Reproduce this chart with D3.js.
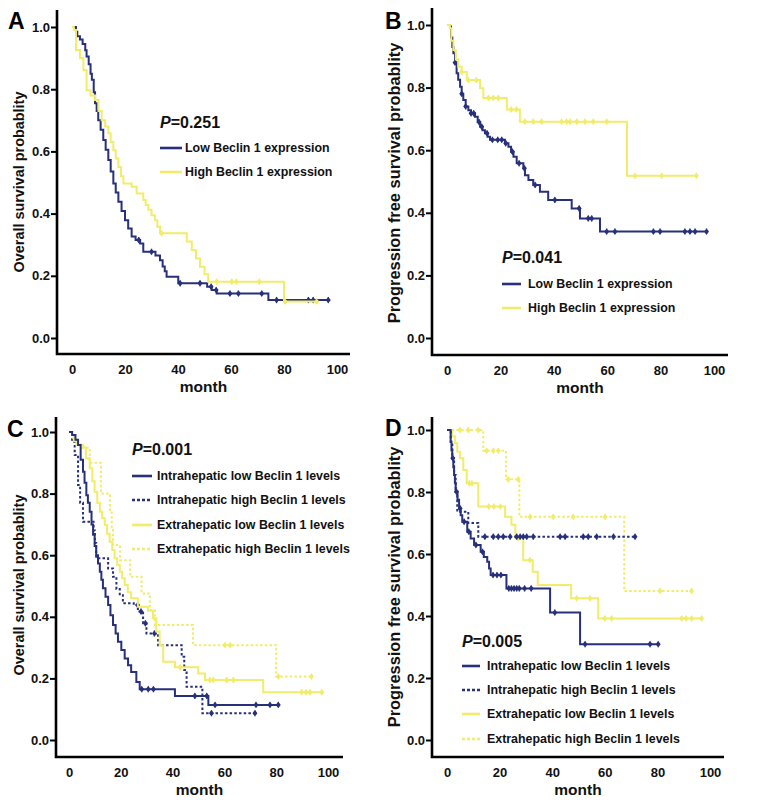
<!DOCTYPE html>
<html><head><meta charset="utf-8">
<script src="https://cdn.jsdelivr.net/npm/d3@7"></script>
<style>body{margin:0;background:#fff}svg{display:block}</style>
</head><body><svg id="c" width="758" height="807"></svg>
<script>
// ---------- data ----------
const monthTicks=[0,20,40,60,80,100];
const probTicks=[0,0.2,0.4,0.6,0.8,1.0];
const panelLetters=["A","B","C","D"];
const pValues=["0.251","0.041","0.001","0.005"];
const yTitles=["Overall survival probablity","Progression free survival probablity","Overall survival probablity","Progression free survival probablity"];
const xTitle="month";
const legend2=["Low Beclin 1 expression","High Beclin 1 expression"];
const legend4=["Intrahepatic low Beclin 1 levels","Intrahepatic high Beclin 1 levels","Extrahepatic low Beclin 1 levels","Extrahepatic high Beclin 1 levels"];

// Panel A: overall survival, low vs high
const aLowSteps=[[0,1.0],[1.5,0.985],[2,0.97],[3,0.96],[4,0.945],[5,0.925],[5.5,0.905],[6.3,0.88],[7,0.85],[7.5,0.83],[8.2,0.79],[8.7,0.755],[9.3,0.73],[9.9,0.70],[10.8,0.67],[11.8,0.637],[12.7,0.605],[13.7,0.572],[14.6,0.535],[15.6,0.497],[16.5,0.468],[17.5,0.438],[18.7,0.408],[20,0.379],[21.2,0.352],[22.5,0.326],[24,0.315],[25.7,0.304],[26.9,0.277],[31.5,0.265],[33.2,0.25],[34.2,0.23],[35,0.215],[35.7,0.197],[40.1,0.176],[51,0.165],[52.7,0.154],[54.6,0.143],[74.1,0.122],[96.7,0.122]];
const aLowCens=[25.2,30,40.8,48.3,52.5,54.4,59.6,62.8,71.6,77.2,89.2,91,96.7];
const aHighSteps=[[0,1.0],[0.7,0.99],[1.5,0.926],[3,0.90],[4.3,0.862],[5.5,0.797],[7,0.78],[8.7,0.765],[10,0.73],[11.2,0.70],[12.5,0.68],[13.7,0.658],[14.6,0.63],[15.6,0.604],[16.5,0.577],[17.5,0.55],[18.5,0.52],[19.4,0.497],[22.5,0.486],[24.4,0.465],[26.9,0.444],[27.8,0.428],[28.8,0.412],[30,0.395],[31.3,0.379],[32.2,0.358],[33.2,0.337],[43.3,0.31],[45.2,0.283],[46.8,0.256],[48.3,0.229],[50,0.205],[51.4,0.181],[80,0.117],[93,0.117]];
const aHighCens=[33.8,54.6,60.3,62,70.7,80.4,92.3];

// Panel B: progression free survival, low vs high
const bLowSteps=[[0,1.0],[1.1,0.995],[1.5,0.96],[2,0.93],[2.4,0.91],[3,0.88],[3.6,0.846],[4.2,0.825],[4.9,0.803],[5.5,0.78],[6.1,0.76],[7,0.74],[8,0.728],[9,0.718],[10.5,0.707],[11.5,0.69],[12.4,0.675],[13.3,0.664],[14.2,0.654],[15.2,0.643],[16.1,0.633],[21.7,0.622],[23,0.611],[24,0.595],[24.9,0.579],[26.1,0.558],[28.6,0.542],[29.2,0.52],[30.5,0.505],[32.3,0.489],[34.8,0.467],[37.9,0.441],[46.7,0.414],[49.8,0.382],[57.3,0.34],[97.2,0.34]];
const bLowCens=[3,5.5,7,9,10,12,13,15,17,19,20.5,22,24.5,27,29,33,40.4,49.5,52.9,54.2,59.8,62.9,77.3,79.8,89.1,91,92.9,97.2];
const bHighSteps=[[0,1.0],[1.1,0.99],[1.6,0.95],[2.4,0.92],[3.3,0.89],[4.2,0.867],[5.5,0.85],[7.4,0.824],[12.4,0.798],[13.6,0.767],[22.4,0.73],[27.3,0.691],[67.4,0.518],[93.4,0.518]];
const bHighCens=[5.5,8,11,15.5,17.3,19.2,24,26,29.2,32.3,35.4,42.9,44.8,46.1,48.6,51.7,54.8,59.8,70.4,80.4,93.4];

// Panel C: overall survival, four groups
const cIlSteps=[[0,1.0],[1.2,0.99],[2.5,0.975],[3.5,0.958],[4.5,0.91],[5.4,0.871],[6,0.835],[6.7,0.795],[7.3,0.77],[8,0.741],[8.7,0.70],[9.3,0.666],[9.9,0.63],[10.5,0.60],[11.2,0.573],[11.9,0.546],[12.5,0.52],[13.1,0.493],[14.1,0.465],[15.1,0.438],[16,0.405],[17,0.373],[18,0.346],[18.9,0.319],[20.2,0.292],[21.5,0.265],[22.8,0.243],[24,0.221],[26,0.188],[27.3,0.165],[40.9,0.143],[53.8,0.114],[80.8,0.114]];
const cIlCens=[28.1,30.6,32.6,48.6,53.2,56.4,72.2,77.6,80.8];
const cIhSteps=[[0,1.0],[1.2,0.968],[2.2,0.925],[3.5,0.828],[4.3,0.77],[5.4,0.709],[9.5,0.68],[10,0.64],[10.5,0.59],[13.8,0.59],[15.1,0.557],[17,0.53],[18.3,0.49],[19.6,0.47],[20.8,0.444],[25,0.438],[26.6,0.417],[28.6,0.379],[29.9,0.346],[34.4,0.308],[43.5,0.27],[44.5,0.227],[45.4,0.173],[51.5,0.087],[71.8,0.087]];
const cIhCens=[26.5,27.8,29.5,33,55,71.8];
const cElSteps=[[0,1.0],[1.2,0.99],[2,0.97],[3,0.958],[5.5,0.95],[6.5,0.915],[8,0.882],[9,0.84],[9.9,0.806],[10.9,0.77],[11.9,0.741],[12.8,0.72],[13.8,0.698],[14.7,0.67],[15.7,0.644],[16.7,0.617],[17.6,0.59],[18.6,0.568],[19.6,0.546],[20.5,0.525],[21.5,0.503],[22.7,0.48],[24,0.46],[26.6,0.433],[30.5,0.42],[32.4,0.395],[33.7,0.352],[35,0.308],[36.4,0.254],[40.9,0.236],[49.9,0.216],[52.5,0.195],[75,0.155],[97.6,0.155]];
const cElCens=[42.9,54.4,55.7,60.9,63.5,89.8,91.5,93,97.6];
const cEhSteps=[[0,1.0],[1.2,0.98],[2.5,0.96],[4.5,0.949],[8,0.90],[12.3,0.80],[15.8,0.747],[16.5,0.69],[17,0.633],[19.7,0.584],[23.6,0.53],[28,0.476],[31.2,0.422],[33.1,0.373],[47.9,0.308],[80,0.206],[93.6,0.206]];
const cEhCens=[60.2,62.2,80.8,93.6];

// Panel D: progression free survival, four groups
const dIlSteps=[[0,1.0],[1.4,0.962],[1.7,0.935],[2,0.909],[2.4,0.88],[2.7,0.855],[3,0.83],[3.3,0.801],[4,0.775],[4.6,0.747],[5.2,0.725],[5.8,0.704],[7.7,0.672],[9,0.65],[10.3,0.629],[12.8,0.607],[14,0.59],[15.3,0.575],[16,0.553],[16.6,0.532],[22.6,0.489],[39.2,0.411],[50.6,0.309],[80.3,0.309]];
const dIlCens=[2.2,3.6,5,6.5,8.3,11,13.5,17.5,19,20.5,23.5,24.5,25.5,26.5,27.5,29.5,32,41,52.5,77.2,80.3];
const dIhSteps=[[0,1.0],[1.4,0.962],[2,0.909],[2.7,0.855],[3.3,0.80],[3.9,0.736],[8.1,0.70],[11.9,0.656],[71.5,0.656]];
const dIhCens=[14.4,17.6,19.5,21.4,24,26.5,27.8,29,30.3,32.8,43,44.9,51.8,53.7,56.9,63.3,71.5];
const dElSteps=[[0,1.0],[2,0.98],[3,0.957],[3.9,0.93],[4.9,0.909],[6.2,0.871],[7.5,0.828],[11.9,0.753],[22.1,0.72],[24.5,0.694],[26,0.651],[29,0.58],[32.6,0.543],[34.5,0.5],[47.2,0.457],[57.5,0.392],[97.2,0.392]];
const dElCens=[8.5,9.5,15.9,17.8,20.3,27.1,31.5,49.3,54.4,60,62.6,89.2,90.9,93,96.8];
const dEhSteps=[[0,1.0],[13.8,0.933],[22.4,0.841],[27.5,0.72],[67.4,0.481],[93,0.481]];
const dEhCens=[4.9,8.1,11.9,15.1,17.6,19.5,23.3,27.1,31.6,40.4,48,60.1,81,93];

// ---------- styling ----------
const NAVY="#27307a", YEL="#f1ec6a";
const FONT="'Liberation Sans', Arial, Helvetica, sans-serif";
const styles=[{c:NAVY,dash:null},{c:NAVY,dash:"2.5,2.2"},{c:YEL,dash:null},{c:YEL,dash:"2.5,2.2"}];

const panels=[
 {x0:72,x100:337,y0:338,y1:27,aL:57,aR:350,aT:10,aB:354,letter:[8,29],yt:{x:19,y:182,fs:14.4},
  leg:{px:160,py:122,lx1:160,lx2:182,tx:185,rows:[148,172]},labels:legend2,
  series:[{s:aLowSteps,c:aLowCens,st:0},{s:aHighSteps,c:aHighCens,st:2}],legStyles:[0,2]},
 {x0:447,x100:714,y0:338,y1:25,aL:432,aR:728,aT:8,aB:355,letter:[385,29],yt:{x:394,y:183,fs:16.4},
  leg:{px:502,py:257,lx1:502,lx2:521,tx:528,rows:[284,308]},labels:legend2,
  series:[{s:bLowSteps,c:bLowCens,st:0},{s:bHighSteps,c:bHighCens,st:2}],legStyles:[0,2]},
 {x0:69,x100:328,y0:740,y1:432,aL:56,aR:343,aT:417,aB:757,letter:[7,437],yt:{x:19,y:585,fs:14.4},
  leg:{px:132,py:449,lx1:132,lx2:152,tx:157,rows:[476,500,525,549]},labels:legend4,
  series:[{s:cIhSteps,c:cIhCens,st:1},{s:cEhSteps,c:cEhCens,st:3},{s:cElSteps,c:cElCens,st:2},{s:cIlSteps,c:cIlCens,st:0}],legStyles:[0,1,2,3]},
 {x0:447,x100:710,y0:740,y1:430,aL:432,aR:724,aT:417,aB:757,letter:[385,436],yt:{x:394,y:587,fs:16.4},
  leg:{px:462,py:641,lx1:462,lx2:480,tx:487,rows:[666,690,714,739]},labels:legend4,
  series:[{s:dEhSteps,c:dEhCens,st:3},{s:dElSteps,c:dElCens,st:2},{s:dIhSteps,c:dIhCens,st:1},{s:dIlSteps,c:dIlCens,st:0}],legStyles:[0,1,2,3]}
];

const svg=d3.select("#c");
svg.append("rect").attr("width",758).attr("height",807).attr("fill","#fff");

function survAt(steps,t){let v=steps[0][1];for(const d of steps){if(d[0]<=t)v=d[1];else break;}return v;}

panels.forEach((p,i)=>{
  const g=svg.append("g");
  const xs=d3.scaleLinear().domain([0,100]).range([p.x0,p.x100]);
  const ys=d3.scaleLinear().domain([0,1]).range([p.y0,p.y1]);

  // y axis
  const yAx=g.append("g").attr("transform",`translate(${p.aL},0)`)
    .call(d3.axisLeft(ys).tickValues(probTicks).tickFormat(d3.format(".1f")).tickSize(6).tickPadding(1));
  yAx.select(".domain").remove();
  yAx.selectAll("line").attr("stroke","#000").attr("stroke-width",2);
  yAx.selectAll("text").attr("font-family",FONT).attr("font-weight","bold").attr("font-size",13).attr("fill","#111");
  // x axis
  const xAx=g.append("g").attr("transform",`translate(0,${p.aB})`)
    .call(d3.axisBottom(xs).tickValues(monthTicks).tickSize(0).tickPadding(11));
  xAx.select(".domain").remove();
  xAx.selectAll("text").attr("font-family",FONT).attr("font-weight","bold").attr("font-size",13).attr("fill","#111");
  // axis lines
  g.append("path").attr("d",`M${p.aL},${p.aT}V${p.aB}H${p.aR}`).attr("fill","none").attr("stroke","#000").attr("stroke-width",2.6);

  // titles
  g.append("text").attr("x",(p.aL+p.aR)/2).attr("y",p.aB+38).attr("text-anchor","middle")
    .attr("font-family",FONT).attr("font-weight","bold").attr("font-size",15.5).attr("fill","#111").text(xTitle);
  g.append("text").attr("transform",`translate(${p.yt.x+p.yt.fs*0.36},${p.yt.y}) rotate(-90)`).attr("text-anchor","middle")
    .attr("font-family",FONT).attr("font-weight","bold").attr("font-size",p.yt.fs).attr("fill","#111").text(yTitles[i]);
  g.append("text").attr("x",p.letter[0]).attr("y",p.letter[1]).attr("font-family",FONT).attr("font-weight","bold")
    .attr("font-size",23).attr("fill","#000").text(panelLetters[i]);

  // curves
  const line=d3.line().x(d=>xs(d[0])).y(d=>ys(d[1])).curve(d3.curveStepAfter);
  p.series.forEach(se=>{
    const st=styles[se.st];
    g.append("path").datum(se.s).attr("d",line).attr("fill","none").attr("stroke",st.c)
      .attr("stroke-width",2).attr("stroke-dasharray",st.dash);
    g.selectAll(null).data(se.c).enter().append("path")
      .attr("transform",t=>`translate(${xs(t)},${ys(survAt(se.s,t))})`)
      .attr("d","M0,-3V3M-1.6,0L0,-2.2L1.6,0L0,2.2Z").attr("fill",st.c).attr("stroke",st.c).attr("stroke-width",1.4);
  });

  // legend
  const L=p.leg;
  const pt=g.append("text").attr("x",L.px).attr("y",L.py).attr("dy","0.35em").attr("font-family",FONT)
    .attr("font-weight","bold").attr("font-size",16).attr("fill","#111");
  pt.append("tspan").attr("font-style","italic").text("P");
  pt.append("tspan").text("="+pValues[i]);
  p.labels.forEach((lab,k)=>{
    const st=styles[p.legStyles[k]];
    g.append("line").attr("x1",L.lx1).attr("x2",L.lx2).attr("y1",L.rows[k]).attr("y2",L.rows[k])
      .attr("stroke",st.c).attr("stroke-width",2.6).attr("stroke-dasharray",st.dash?"3,2":null);
    g.append("text").attr("x",L.tx).attr("y",L.rows[k]).attr("dy","0.35em").attr("font-family",FONT)
      .attr("font-weight","bold").attr("font-size",12.4).attr("fill","#111").text(lab);
  });
});
</script></body></html>
